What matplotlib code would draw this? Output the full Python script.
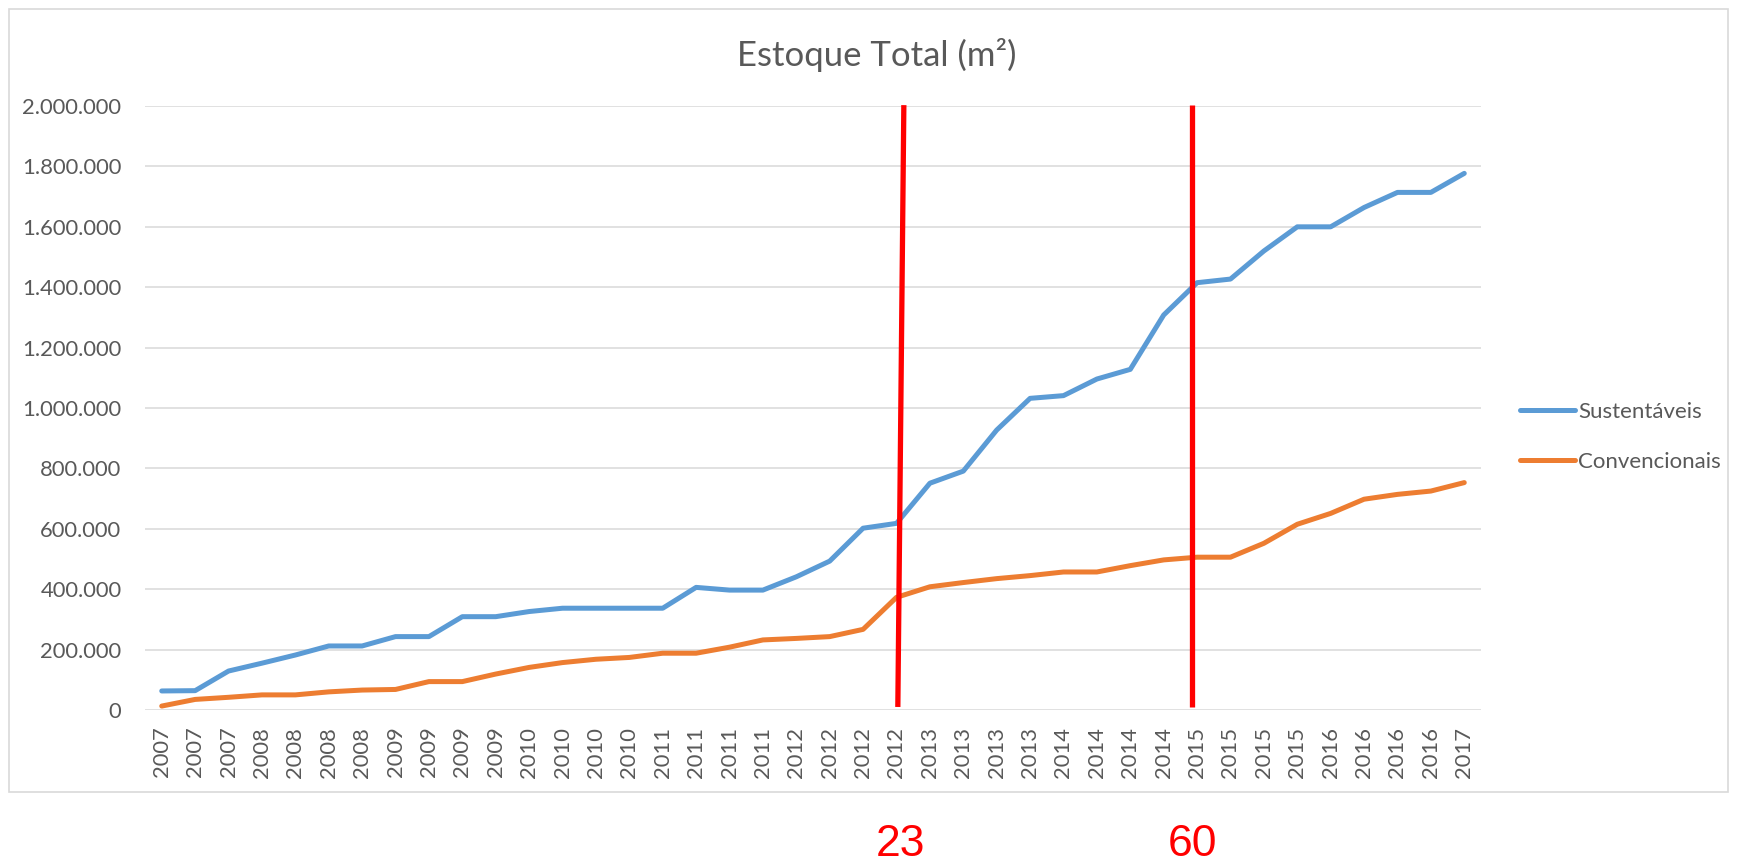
import matplotlib.pyplot as plt
from matplotlib.patches import Rectangle
from matplotlib.ticker import FuncFormatter

# trimestres (rótulos do eixo x)
periodos = (["2007"] * 3 + ["2008"] * 4 + ["2009"] * 4 + ["2010"] * 4 +
            ["2011"] * 4 + ["2012"] * 4 + ["2013"] * 4 + ["2014"] * 4 +
            ["2015"] * 4 + ["2016"] * 4 + ["2017"])

sustentaveis = [63000, 64000, 129000, 155000, 182000, 212000, 212000, 243000,
                243000, 309000, 309000, 326000, 337000, 337000, 337000, 337000,
                406000, 397000, 397000, 441000, 493000, 602000, 618000, 751000,
                791000, 927000, 1032000, 1041000, 1096000, 1128000, 1308000,
                1415000, 1427000, 1520000, 1600000, 1600000, 1664000, 1714000,
                1714000, 1777000]

convencionais = [13000, 35000, 42000, 50000, 50000, 60000, 66000, 68000,
                 94000, 94000, 119000, 141000, 157000, 168000, 174000, 188000,
                 188000, 208000, 232000, 237000, 243000, 267000, 373000, 408000,
                 422000, 435000, 445000, 457000, 457000, 478000, 497000,
                 506000, 506000, 552000, 615000, 651000, 698000, 714000,
                 725000, 753000]

# marcações em vermelho (posição no eixo x, base/topo, rótulo)
marca_x_base = [22.04, 30.86]
marca_x_topo = [22.22, 30.86]
marca_rotulo = ["23", "60"]

cinza = "#595959"
plt.rcParams["font.family"] = ["Lato", "DejaVu Sans"]

fig = plt.figure(figsize=(17.37, 8.67), dpi=100)
ax = fig.add_axes([0.0835, 0.1811, 0.7691, 0.6966])

x = list(range(len(periodos)))
ax.plot(x, sustentaveis, color="#5B9BD5", lw=3.6, solid_capstyle="round",
        solid_joinstyle="round", label="Sustentáveis", zorder=3)
ax.plot(x, convencionais, color="#ED7D31", lw=3.6, solid_capstyle="round",
        solid_joinstyle="round", label="Convencionais", zorder=3)

ax.set_xlim(-0.5, len(periodos) - 0.5)
ax.set_ylim(0, 2000000)
ax.set_yticks(range(0, 2000001, 200000))
ax.yaxis.set_major_formatter(FuncFormatter(lambda v, p: f"{int(v):,}".replace(",", ".")))
ax.set_xticks(x)
ax.set_xticklabels(periodos, rotation=90)
ax.tick_params(axis="both", length=0, colors=cinza, labelsize=15.8)
ax.tick_params(axis="y", pad=17)
ax.tick_params(axis="x", pad=12)
ax.grid(axis="y", color="#D9D9D9", lw=1.1)
ax.set_axisbelow(True)
for s in ax.spines.values():
    s.set_visible(False)

# linhas vermelhas
for xb, xt, rot in zip(marca_x_base, marca_x_topo, marca_rotulo):
    ax.plot([xb, xt], [10000, 2003000], color="#FF0000", lw=3.8,
            solid_capstyle="butt", zorder=4, clip_on=False)
    ax.annotate(rot, xy=((xb + xt) / 2, 0.002), xycoords=("data", "figure fraction"),
                ha="center", va="bottom", color="#FF0000", fontsize=32,
                family="Liberation Sans", annotation_clip=False)

fig.text(0.505, 0.937, "Estoque Total (m²)", ha="center", va="center",
         fontsize=25, color=cinza)

fig.legend(loc="center left", bbox_to_anchor=(0.875, 0.496), frameon=False,
           fontsize=16, labelcolor=cinza, handlelength=2.5, handletextpad=0.12,
           labelspacing=1.35, borderpad=0, borderaxespad=0)

# moldura do gráfico
fig.patches.append(Rectangle((9 / 1737, 1 - 792 / 867), 1719 / 1737, 783 / 867,
                             transform=fig.transFigure, fill=False,
                             edgecolor="#D9D9D9", lw=1.2))

fig.savefig("out.png", dpi=100)
